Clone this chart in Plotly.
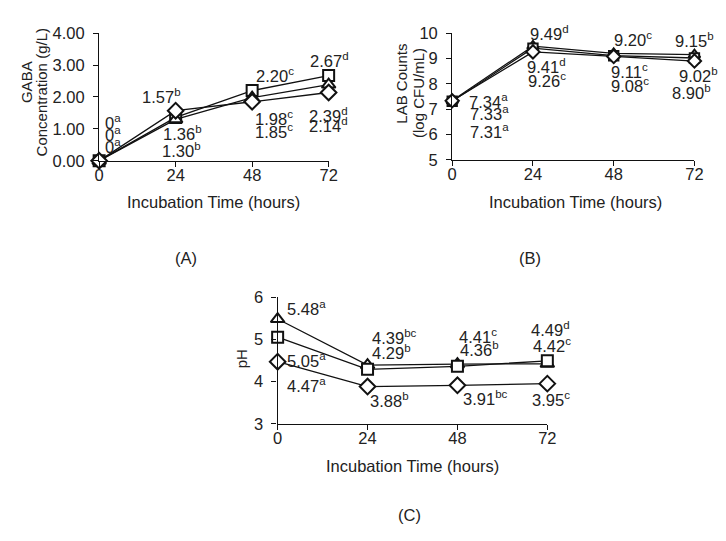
import plotly.graph_objects as go

W, H = 726, 541

# ---------------- data ----------------
hours = [0, 24, 48, 72]

gaba_square = [0, 1.36, 2.20, 2.67]
gaba_triangle = [0, 1.30, 1.98, 2.39]
gaba_diamond = [0, 1.57, 1.85, 2.14]
gaba_lab_square = ["0<sup>a</sup>", "1.36<sup>b</sup>", "2.20<sup>c</sup>", "2.67<sup>d</sup>"]
gaba_lab_triangle = ["0<sup>a</sup>", "1.30<sup>b</sup>", "1.98<sup>c</sup>", "2.39<sup>d</sup>"]
gaba_lab_diamond = ["0<sup>a</sup>", "1.57<sup>b</sup>", "1.85<sup>c</sup>", "2.14<sup>d</sup>"]

lab_triangle = [7.34, 9.49, 9.20, 9.15]
lab_square = [7.31, 9.41, 9.11, 9.02]
lab_diamond = [7.33, 9.26, 9.08, 8.90]
lab_lab_triangle = ["7.34<sup>a</sup>", "9.49<sup>d</sup>", "9.20<sup>c</sup>", "9.15<sup>b</sup>"]
lab_lab_square = ["7.31<sup>a</sup>", "9.41<sup>d</sup>", "9.11<sup>c</sup>", "9.02<sup>b</sup>"]
lab_lab_diamond = ["7.33<sup>a</sup>", "9.26<sup>c</sup>", "9.08<sup>c</sup>", "8.90<sup>b</sup>"]

ph_triangle = [5.48, 4.39, 4.41, 4.42]
ph_square = [5.05, 4.29, 4.36, 4.49]
ph_diamond = [4.47, 3.88, 3.91, 3.95]
ph_lab_triangle = ["5.48<sup>a</sup>", "4.39<sup>bc</sup>", "4.41<sup>c</sup>", "4.42<sup>c</sup>"]
ph_lab_square = ["5.05<sup>a</sup>", "4.29<sup>b</sup>", "4.36<sup>b</sup>", "4.49<sup>d</sup>"]
ph_lab_diamond = ["4.47<sup>a</sup>", "3.88<sup>b</sup>", "3.91<sup>bc</sup>", "3.95<sup>c</sup>"]

x_title = "Incubation Time (hours)"

# ---------------- styling / placement ----------------
FONT = "Liberation Sans, Arial, sans-serif"
TXT = "#222222"
FS = 16.5
FS_Y = 15

def dom_x(a, b):
    return [a / W, b / W]

def dom_y(top, bottom):
    return [1 - bottom / H, 1 - top / H]

panels = {
    "A": dict(xa="x", ya="y", xd=dom_x(96, 330), yd=dom_y(25, 157), yr=[0, 4], fmt=".2f", ms=1.0),
    "B": dict(xa="x2", ya="y2", xd=dom_x(456, 703), yd=dom_y(25, 156), yr=[5, 10], fmt="d", ms=0.85),
    "C": dict(xa="x3", ya="y3", xd=dom_x(278, 553), yd=dom_y(298, 429), yr=[3, 6], fmt="d", ms=1.0),
}

symbols = {"square": "square", "triangle": "triangle-up", "diamond": "diamond"}
msize = {"square": 11, "triangle": 12, "diamond": 12}

series = {
    "A": [("square", gaba_square, gaba_lab_square, [(14, -39), (7, 16), (23, -16), (1, -16)]),
          ("triangle", gaba_triangle, gaba_lab_triangle, [(14, -15), (6, 31), (22, 20), (0, 30)]),
          ("diamond", gaba_diamond, gaba_lab_diamond, [(14, -27), (-14, -15), (22, 29), (0, 32)])],
    "B": [("triangle", lab_triangle, lab_lab_triangle, [(36, 0), (17, -13), (19, -14), (0, -15)]),
          ("square", lab_square, lab_lab_square, [(37, 30), (14, 18), (16, 15), (4, 17)]),
          ("diamond", lab_diamond, lab_lab_diamond, [(37, 12), (14, 28), (16, 29), (-3, 31)])],
    "C": [("triangle", ph_triangle, ph_lab_triangle, [(29, -11), (27, -28), (21, -28), (5, -19)]),
          ("square", ph_square, ph_lab_square, [(29, 23), (24, -17), (22, -17), (3, -32)]),
          ("diamond", ph_diamond, ph_lab_diamond, [(29, 23), (22, 13), (28, 13), (4, 15)])],
}

fig = go.Figure()
annotations = []

for key, p in panels.items():
    for shape, vals, labs, offs in series[key]:
        fig.add_trace(go.Scatter(
            x=hours, y=vals, xaxis=p["xa"], yaxis=p["ya"], mode="lines+markers",
            line=dict(color="#111111", width=1.3),
            marker=dict(symbol=symbols[shape], size=msize[shape] * p["ms"], color="white",
                        line=dict(width=2, color="#111111")),
            cliponaxis=False, showlegend=False, hoverinfo="skip"))
        for h, v, lab, (dx, dy) in zip(hours, vals, labs, offs):
            annotations.append(dict(
                x=h, y=v, xref=p["xa"], yref=p["ya"], text=lab, showarrow=False,
                xanchor="center", yanchor="middle", xshift=dx, yshift=-dy,
                font=dict(family=FONT, size=FS, color=TXT)))

axis_common = dict(showline=True, linecolor="#111111", linewidth=1.3, ticks="outside",
                   ticklen=5, tickcolor="#111111", tickwidth=1.3, showgrid=False,
                   zeroline=False, tickfont=dict(family=FONT, size=FS, color=TXT))

layout_axes = {}
for i, (key, p) in enumerate(panels.items()):
    sx = "" if i == 0 else str(i + 1)
    layout_axes["xaxis" + sx] = dict(axis_common, domain=p["xd"], range=[0, 72],
                                     tickvals=hours, anchor=p["ya"], ticklabelstandoff=-6)
    layout_axes["yaxis" + sx] = dict(axis_common, domain=p["yd"], range=p["yr"], dtick=1,
                                     tickformat=p["fmt"], anchor=p["xa"], ticklabelstandoff=5)

def paper_text(text, px, py, size=FS, angle=0):
    annotations.append(dict(x=px / W, y=1 - py / H, xref="paper", yref="paper", text=text,
                            showarrow=False, xanchor="center", yanchor="middle",
                            textangle=angle, font=dict(family=FONT, size=size, color=TXT)))

paper_text("GABA", 22, 76, size=FS_Y, angle=-90)
paper_text("Concentration (g/L)", 37, 86, size=FS_Y, angle=-90)
paper_text("LAB Counts", 404, 77, size=FS_Y, angle=-90)
paper_text("(log CFU/mL)", 421, 87, size=FS_Y, angle=-90)
paper_text("pH", 242, 362, size=FS_Y, angle=-90)

paper_text(x_title, 213, 200)
paper_text(x_title, 582, 200)
paper_text(x_title, 416, 473)

paper_text("(A)", 185, 258)
paper_text("(B)", 535, 258)
paper_text("(C)", 412, 523)

fig.update_layout(width=W, height=H, margin=dict(l=0, r=0, t=0, b=0),
                  paper_bgcolor="white", plot_bgcolor="white",
                  annotations=annotations, **layout_axes)

fig.write_html("out.html")
